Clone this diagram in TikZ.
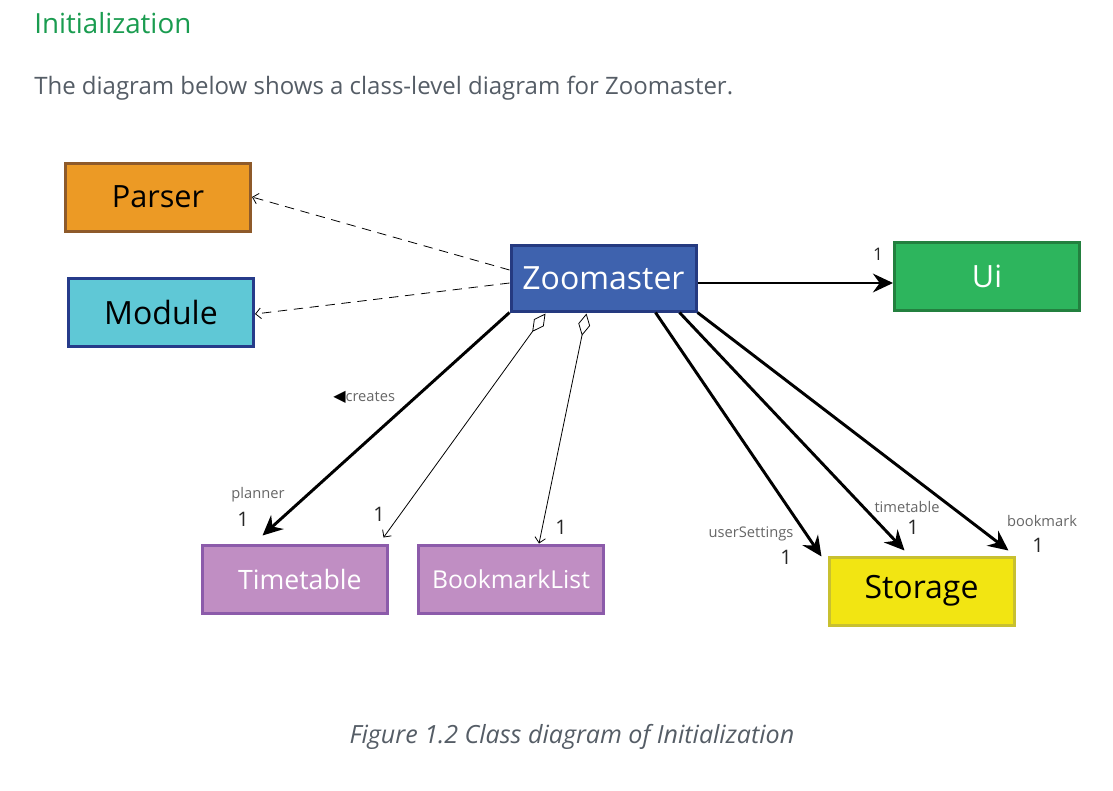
\documentclass[tikz,border=0pt]{standalone}
\usepackage{fontspec}
\setmainfont{Open Sans}
\newfontfamily\symfont{DejaVu Sans}
\usetikzlibrary{arrows.meta,calc}
\definecolor{headgreen}{HTML}{1A9C50}
\definecolor{txtgray}{HTML}{555D66}
\definecolor{lblgray}{HTML}{666666}
\definecolor{parserfill}{HTML}{EC9A25}
\definecolor{parserline}{HTML}{8E5A2A}
\definecolor{modfill}{HTML}{5FC8D6}
\definecolor{modline}{HTML}{263B8A}
\definecolor{zoomfill}{HTML}{3E62AE}
\definecolor{zoomline}{HTML}{253A80}
\definecolor{uifill}{HTML}{2DB55D}
\definecolor{uiline}{HTML}{23803F}
\definecolor{purpfill}{HTML}{C08EC3}
\definecolor{purpline}{HTML}{8C5BAA}
\definecolor{stfill}{HTML}{F2E512}
\definecolor{stline}{HTML}{C8C030}
\tikzset{
  box/.style={draw, line width=2.25pt, minimum width=138.75pt, minimum height=51pt, inner sep=0pt},
  boxfont/.style={font=\fontsize{#1}{#1}\selectfont},
  thickarrow/.style={line width=2.2pt, -{Stealth[length=15pt,width=14pt,inset=5pt]}},
  aggarrow/.style={line width=0.6pt, {Diamond[open,length=17pt,width=9pt,line width=0.6pt]}-{Straight Barb[length=4pt,width=8pt,line width=0.6pt]}},
  deparrow/.style={line width=0.6pt, dash pattern=on 7pt off 5pt, -{Straight Barb[length=4pt,width=8pt,line width=0.6pt]}},
  smalllbl/.style={text=lblgray, font=\fontsize{11}{11}\selectfont, inner sep=0pt},
  mult/.style={text=black!85, font=\fontsize{15}{15}\selectfont, inner sep=0pt},
}
\begin{document}
\begin{tikzpicture}[x=0.75pt,y=-0.75pt]
\useasboundingbox (0,0) rectangle (1113,790);
\fill[white] (0,0) rectangle (1113,790);

% texts
\node[anchor=west, text=headgreen, font=\fontsize{20.8}{21}\selectfont, inner sep=0pt] (head) at (34,23) {Initialization};
\node[anchor=west, text=txtgray, font=\fontsize{18}{18}\selectfont, inner sep=0pt] (intro) at (34,88) {The diagram below shows a class-level diagram for Zoomaster.};
\node[text=txtgray, font=\itshape\fontsize{18.8}{19}\selectfont, inner sep=0pt] (cap) at (572,737) {Figure 1.2 Class diagram of Initialization};

% boxes
\node[box, fill=parserfill, draw=parserline, boxfont=23] (parser) at (158,197) {Parser};
\node[box, fill=modfill, draw=modline, boxfont=24] (module) at (161,312) {Module};
\node[box, fill=zoomfill, draw=zoomline, text=white, boxfont=24, minimum height=49.5pt] (zoom) at (603.5,278) {Zoomaster};
\node[box, fill=uifill, draw=uiline, text=white, boxfont=23] (ui) at (987,276) {Ui};
\node[box, fill=purpfill, draw=purpline, text=white, boxfont=20, text width=120pt, align=center] (tt) at (294.5,579) {\hspace*{8pt}Timetable};
\node[box, fill=purpfill, draw=purpline, text=white, boxfont=18.5] (bl) at (511,579) {BookmarkList};
\node[box, fill=stfill, draw=stline, boxfont=24] (st) at (921.5,591) {\raisebox{-2pt}{Storage}};

% dependencies
\draw[deparrow] ($(zoom.west)+(0,-8)$) -- (parser.east);
\draw[deparrow] ($(zoom.west)+(0,5)$) -- ($(module.east)+(0,2)$);

% Ui
\draw[thickarrow] ($(zoom.east)+(0,5)$) -- ($(ui.west)+(0,7)$);
\node[mult, font=\fontsize{13}{13}\selectfont] (m-ui) at (878,254) {1};

% creates
\draw[thickarrow] (zoom.south west) -- ($(tt.north west)+(62,-8)$);
\node[anchor=west, inner sep=0pt, text=lblgray, font=\fontsize{11}{11}\selectfont] (creates) at (333,397) {{\symfont\fontsize{12}{12}\selectfont\color{black}◀}creates};
\node[smalllbl] (planner) at (258,495) {planner};
\node[mult] (m-tt1) at (243,519) {1};

% aggregations
\draw[aggarrow] ($(zoom.south west)+(36,1)$) -- ($(tt.north east)+(-5,-6)$);
\node[mult] (m-tt2) at (379,514) {1};
\draw[aggarrow] ($(zoom.south west)+(77,1)$) -- ($(bl.north west)+(122,0)$);
\node[mult] (m-bl) at (561,527) {1};

% storage
\draw[thickarrow] ($(zoom.south west)+(146,0)$) -- ($(st.north west)+(-6,1)$);
\node[smalllbl] (us) at (751,534) {userSettings};
\node[mult] (m-us) at (786,557) {1};
\draw[thickarrow] ($(zoom.south west)+(170,0)$) -- ($(st.north west)+(77,-5)$);
\node[smalllbl] (ttl) at (907,507) {timetable};
\node[mult] (m-ttl) at (913,527) {1};
\draw[thickarrow] (zoom.south east) -- ($(st.north west)+(181,-5)$);
\node[smalllbl] (bm) at (1042,521) {bookmark};
\node[mult] (m-bm) at (1038,545) {1};
\end{tikzpicture}
\end{document}
